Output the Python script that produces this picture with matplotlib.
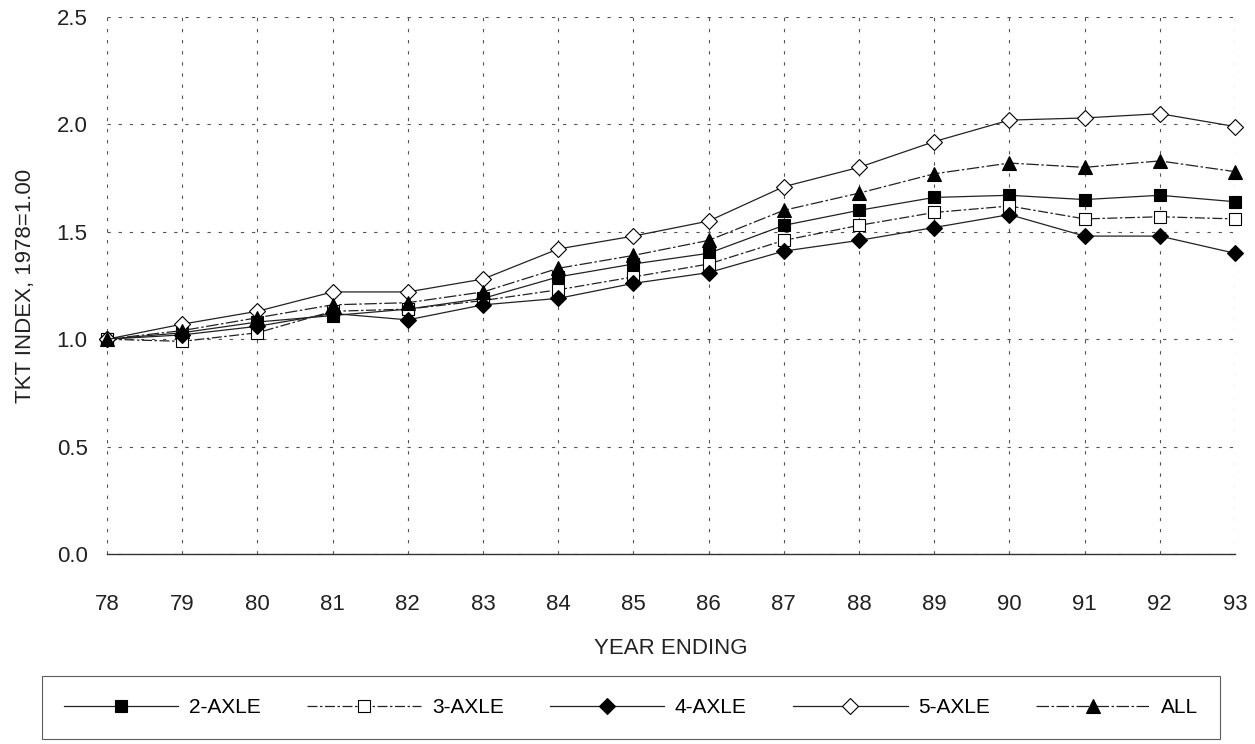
import numpy as np
import matplotlib
matplotlib.use("Agg")
import matplotlib.pyplot as plt
from matplotlib.lines import Line2D

plt.rcParams['font.family'] = ['Liberation Sans', 'DejaVu Sans']

# Data
years = [78, 79, 80, 81, 82, 83, 84, 85, 86, 87, 88, 89, 90, 91, 92, 93]
year_labels = [str(y) for y in years]

axle2 = [1.00, 1.03, 1.08, 1.11, 1.14, 1.19, 1.29, 1.35, 1.40, 1.53, 1.60, 1.66, 1.67, 1.65, 1.67, 1.64]
axle3 = [1.00, 0.99, 1.03, 1.13, 1.14, 1.18, 1.23, 1.29, 1.35, 1.46, 1.53, 1.59, 1.62, 1.56, 1.57, 1.56]
axle4 = [1.00, 1.02, 1.06, 1.12, 1.09, 1.16, 1.19, 1.26, 1.31, 1.41, 1.46, 1.52, 1.58, 1.48, 1.48, 1.40]
axle5 = [1.00, 1.07, 1.13, 1.22, 1.22, 1.28, 1.42, 1.48, 1.55, 1.71, 1.80, 1.92, 2.02, 2.03, 2.05, 1.99]
all_axle = [1.00, 1.04, 1.10, 1.16, 1.17, 1.22, 1.33, 1.39, 1.46, 1.60, 1.68, 1.77, 1.82, 1.80, 1.83, 1.78]

series = [
    ('2-AXLE', axle2, 's', 'black', '-'),
    ('3-AXLE', axle3, 's', 'white', (0, (8, 2, 2, 2))),
    ('4-AXLE', axle4, 'D', 'black', '-'),
    ('5-AXLE', axle5, 'D', 'white', '-'),
    ('ALL', all_axle, '^', 'black', (0, (10, 2, 2, 2))),
]

fig = plt.figure(figsize=(12.55, 7.44), dpi=100)
# plot area: x from 78 (px 107) to 93 (px 1235), y from 0 (px 554) to 2.5 (px 17)
ax = fig.add_axes([107 / 1255, (744 - 554) / 744, 1128 / 1255, 537 / 744])

handles = []
for name, vals, mk, fc, ls in series:
    ms = 9 if mk == 's' else (8 if mk == 'D' else 10)
    ax.plot(years, vals, color='#222222', linewidth=0.9, linestyle=ls,
            marker=mk, markersize=ms, markerfacecolor=fc,
            markeredgecolor='black', markeredgewidth=0.8, zorder=3,
            clip_on=False)
    handles.append(Line2D([0], [0], color='#222222', linewidth=0.9, linestyle=ls,
                          marker=mk, markersize=ms, markerfacecolor=fc,
                          markeredgecolor='black', markeredgewidth=0.8))

ax.set_xlim(78, 93)
ax.set_ylim(0, 2.5)
ax.set_xticks(years)
ax.set_xticklabels(year_labels)
ax.set_yticks([0.0, 0.5, 1.0, 1.5, 2.0, 2.5])
ax.set_yticklabels(['0.0', '0.5', '1.0', '1.5', '2.0', '2.5'])
ax.tick_params(axis='both', length=0, labelsize=16, colors='#222222')
ax.tick_params(axis='x', pad=29)
ax.tick_params(axis='y', pad=14)

ax.grid(True, color='#555555', linestyle=(0, (3, 7)), linewidth=0.8)
for side in ['top', 'right', 'left']:
    ax.spines[side].set_visible(False)
ax.spines['bottom'].set_color('#333333')
ax.spines['bottom'].set_linewidth(1.0)

ax.set_xlabel('YEAR ENDING', fontsize=16, labelpad=16, color='#222222')
ax.set_ylabel('TKT INDEX, 1978=1.00', fontsize=16, labelpad=15, color='#222222')

leg = fig.legend(handles, [s[0] for s in series], loc='lower left',
                 bbox_to_anchor=(42 / 1255, 5 / 744, 1178 / 1255, 63 / 744),
                 mode='expand', ncol=5, frameon=True, fancybox=False,
                 fontsize=15, handlelength=5.5, handletextpad=0.5,
                 borderpad=1.05, borderaxespad=0, edgecolor='#333333')
leg.get_frame().set_linewidth(0.8)

fig.savefig('out.png', dpi=100)
